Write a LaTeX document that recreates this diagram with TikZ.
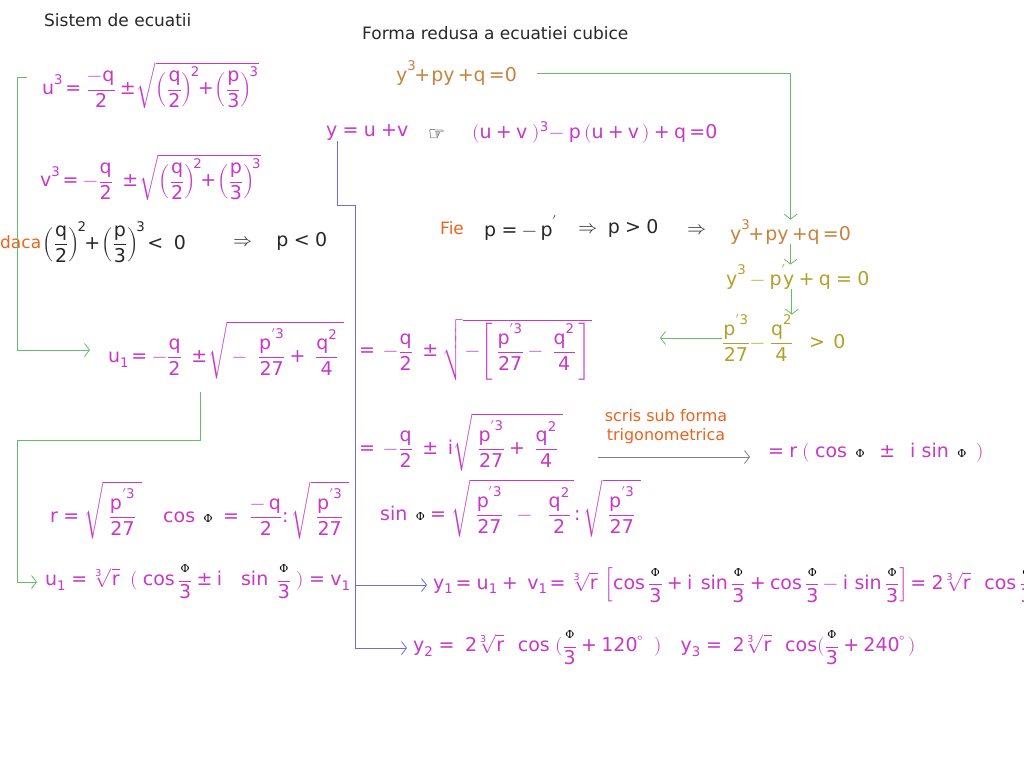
\documentclass[tikz,border=0pt]{standalone}
\usepackage{amsmath}
\usepackage{fontspec}
\usepackage{unicode-math}
\setmainfont{DejaVu Sans}
\unimathsetup{math-style=upright}
\setmathfont{latinmodern-math.otf}
\setmathfont[range={up/{latin,Latin,num},"002B,"003D,"2212,"00B1,"003C,"003E,"003A}]{DejaVu Sans}
\newfontfamily\symfont{DejaVu Sans}
\newfontfamily\phifont{DejaVu Serif}
\usetikzlibrary{positioning,arrows.meta}

\definecolor{mag}{RGB}{200,55,200}
\definecolor{brn}{RGB}{200,130,60}
\definecolor{olv}{RGB}{180,160,40}
\definecolor{orng}{RGB}{235,100,30}
\definecolor{grn}{RGB}{100,190,100}
\definecolor{blu}{RGB}{110,110,215}
\definecolor{titl}{RGB}{40,40,40}

\newcommand{\fii}{\mbox{\color{black}\phifont\fontsize{11}{11}\selectfont Φ}}
\newcommand{\Cos}{\mathop{\text{cos}}\nolimits}
\newcommand{\Sin}{\mathop{\text{sin}}\nolimits}

\begin{document}
\begin{tikzpicture}[x=1pt,y=-1pt,
                    eq/.style={anchor=west,inner sep=0pt,text=mag,font=\fontsize{19}{23}\selectfont},
                    cubic/.style={eq,text=brn},
                    cond/.style={eq,text=titl},
                    note/.style={anchor=west,inner sep=0pt,text=orng,font=\fontsize{17}{20}\selectfont},
                    title/.style={anchor=west,inner sep=0pt,text=titl,font=\fontsize{17}{20}\selectfont},
                    gline/.style={draw=grn,thick},
                    garrow/.style={gline,-{Straight Barb[length=5pt,width=13pt]}},
                    bline/.style={draw=blu,thick},
                    barrow/.style={bline,-{Straight Barb[length=5pt,width=13pt]}}
                ]
    \fill[white] (0,0) rectangle (1024,768);
    \useasboundingbox (0,0) rectangle (1024,768);

    % titluri
    \node[title] (sistem) at (44,20) {Sistem de ecuatii};
    \node[title] (forma) at (362,33) {Forma redusa a ecuatiei cubice};

    % sistemul in u si v
    \node[eq] (ucub) at (42,85) {$\displaystyle u^3 \!= \frac{-q}{2} \pm\! \sqrt{\Bigl(\frac{q}{2}\Bigr)^{\!2}\!\!+\!\Bigl(\frac{p}{3}\Bigr)^{\!3}}$};
    \node[eq] (vcub) at (40,177) {$\displaystyle v^3 \!= -\frac{q}{2} \;\pm\! \sqrt{\Bigl(\frac{q}{2}\Bigr)^{\!2}\!\!+\!\Bigl(\frac{p}{3}\Bigr)^{\!3}}$};
    \node[note] (daca) at (0,242) {daca};
    \node[cond,right=1pt of daca] (conditie) {$\displaystyle \Bigl(\frac{q}{2}\Bigr)^{\!2}\!\!+\!\Bigl(\frac{p}{3}\Bigr)^{\!3}\! < \; 0$};
    \node[cond] (pneg) at (233,241) {$\Rightarrow \quad p < 0$};

    % forma redusa
    \node[cubic] (cub1) at (396,73) {$y^3\!\!+\!py \,{+}q \,{=}0$};
    \node[eq] (yuv) at (326,133) {$y = u \;{+}v$};
    \node[anchor=west,inner sep=0pt,font=\symfont\fontsize{19}{19}\selectfont] (mana) at (428,135) {☞};
    \node[eq] (dezv) at (472,132) {$(u + v\;)^3\! - p\,(u + v\,) + q\, {=}0$};

    \node[note] (fie) at (440,228) {Fie};
    \node[cond] (subst) at (484,228) {$p = -\,p'$};
    \node[cond] (ppoz) at (578,228) {$\Rightarrow\; p > 0$};
    \node[cond] (impl) at (687,230) {$\Rightarrow$};
    \node[cubic] (cub2) at (730,232) {$y^3\!\!+\!py \,{+}q \,{=}0$};
    \node[eq,text=olv] (red) at (726,277) {$y^3 - p'\!y + q = 0$};
    \node[eq,text=olv] (disc) at (722,338) {$\displaystyle \frac{p'^3}{27}\! - \frac{q^2}{4} \;\;>\, 0$};

    % radacinile
    \node[eq] (u1a) at (108,350) {$\displaystyle u_1 \!= -\frac{q}{2} \;\pm\! \sqrt{\;-\;\;\frac{p'^3}{27} + \;\frac{q^2}{4}\;}$};
    \node[eq] (u1b) at (359,350) {$\displaystyle = \,-\frac{q}{2} \;\pm \sqrt{\,-\!\left[\,\frac{p'^3}{27} - \;\frac{q^2}{4}\,\right]}$};
    \node[eq] (u1c) at (359,442) {$\displaystyle = \,-\frac{q}{2} \;\pm\; i\sqrt{\;\frac{p'^3}{27} + \;\frac{q^2}{4}\;}$};
    \node[note,anchor=center,align=center,font=\fontsize{16}{19}\selectfont] (scris) at (666,427) {scris sub forma\\trigonometrica};
    \node[eq] (trig) at (768,453) {$= r\; (\;\Cos\;\fii \;\;\pm\;\; i\,\Sin\;\fii \;\;)$};

    \node[eq] (rdef) at (50,510) {$\displaystyle r = \sqrt{\;\frac{p'^3}{27}\;}$};
    \node[eq] (cosdef) at (163,510) {$\displaystyle \Cos\;\fii \;=\; \frac{-\,q}{2} : \sqrt{\;\frac{p'^3}{27}\;}$};
    \node[eq] (sindef) at (380,508) {$\displaystyle \Sin\;\fii = \sqrt{\;\frac{p'^3}{27} \;\;-\;\; \frac{q^2}{2}\,} : \sqrt{\;\frac{p'^3}{27}\;}$};

    \node[eq] (u1r) at (45,582) {$\displaystyle u_1 = \sqrt[3]{r}\;\;(\;\Cos\frac{\fii}{3} \pm i\;\;\;\Sin\;\frac{\fii}{3}\;) = v_1$};
    \node[eq] (y1) at (433,585) {$\displaystyle y_1 \!= u_1 + \; v_1 \!= \sqrt[3]{r}\,\left[\Cos\frac{\fii}{3} + i\; \Sin\frac{\fii}{3} + \Cos\frac{\fii}{3} - i\,\Sin\frac{\fii}{3}\right]\! = 2\sqrt[3]{r}\;\; \Cos\frac{\fii}{3}$};
    \node[eq] (y23) at (413,648) {$\displaystyle y_2 = \;2\sqrt[3]{r}\;\;\Cos\;(\frac{\fii}{3} + 120^{\circ}\;\;) \quad y_3 = \;2\sqrt[3]{r}\;\;\Cos(\frac{\fii}{3} + 240^{\circ}\,)$};

    % sageti verzi
    \draw[garrow,shorten <=20pt] (cub1.east) -| (cub2.north);
    \draw[garrow] (cub2.south) -- (cub2.south |- red.north);
    \draw[garrow] ([xshift=-6pt]red.south) -- ([xshift=-6pt]red.south |- disc.north);
    \coordinate (discend) at (660,338);
    \draw[garrow] (disc.west) -- (discend);
    \coordinate (gtop) at (27,77);
    \draw[garrow,shorten >=18pt] (gtop) -- ++(-10,0) |- (u1a.west);
    \coordinate (gmid) at (200,392);
    \draw[garrow,shorten >=8pt] (gmid) |- (17,440) |- (u1r.west);

    % liniile albastre
    \coordinate (bstart) at ([xshift=11pt]yuv.south west);
    \coordinate (bx) at (355,205);
    \draw[barrow,shorten >=6pt] (bstart) |- (bx) |- (y23.west);
    \draw[barrow,shorten >=6pt] (y1.west -| bx) -- (y1.west);

    % trecerea la forma trigonometrica
    \coordinate (tstart) at (598,457);
    \draw[draw=gray,thick,-{Straight Barb[length=5pt,width=13pt]},shorten >=18pt] (tstart) -- (tstart -| trig.west);
\end{tikzpicture}
\end{document}
